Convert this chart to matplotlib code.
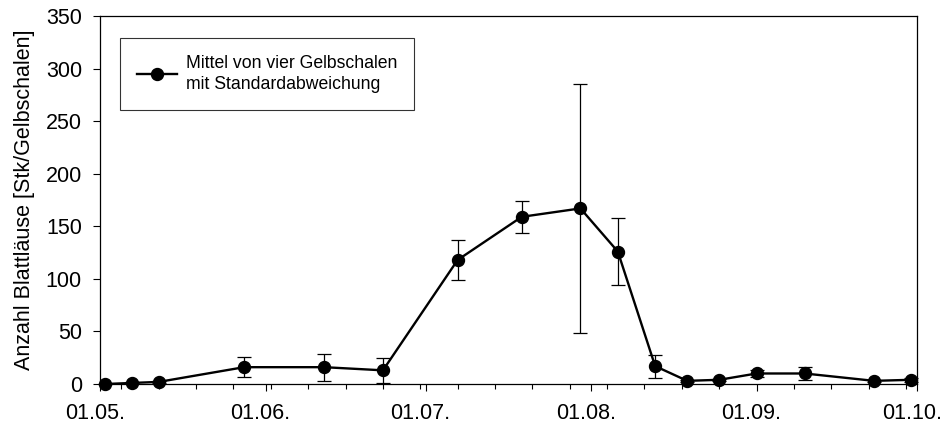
import matplotlib
matplotlib.use("Agg")
import matplotlib.pyplot as plt
import matplotlib.dates as mdates
import matplotlib.transforms as mtransforms
import numpy as np
import datetime as dt

plt.rcParams['font.family'] = ['Liberation Sans', 'DejaVu Sans']

# sampling dates (day.month) and mean counts with standard deviation
dates = ['02.05.', '07.05.', '12.05.', '28.05.', '12.06.', '23.06.', '07.07.',
         '19.07.', '30.07.', '06.08.', '13.08.', '19.08.', '25.08.', '01.09.',
         '10.09.', '23.09.', '30.09.']
means = [0, 1, 2, 16, 16, 13, 118, 159, 167, 126, 17, 3, 4, 10, 10, 3, 4]
stdev = [0, 0.5, 1, 9.5, 13, 12, 19, 15, 118.5, 32, 11, 1, 1, 3, 6, 1, 2]

year = 2003
x = [dt.datetime.strptime(d + str(year), '%d.%m.%Y') for d in dates]

fig = plt.figure(figsize=(9.41, 4.28), dpi=100)
ax = fig.add_axes([0.1063, 0.1028, 0.8679, 0.8598])

ax.errorbar(x, means, yerr=stdev, fmt='none', ecolor='black', elinewidth=0.9,
            capsize=4.7, capthick=0.9, zorder=2, clip_on=False)
ax.plot(x, means, color='black', linewidth=1.7, marker='o', markersize=8.6,
        label='Mittel von vier Gelbschalen\nmit Standardabweichung',
        zorder=3, clip_on=False)

ax.set_xlim(dt.datetime(year, 5, 1), dt.datetime(year, 10, 1))
ax.set_ylim(0, 350)
ax.set_yticks(np.arange(0, 351, 50))

ax.xaxis.set_major_locator(mdates.MonthLocator())
ax.xaxis.set_major_formatter(mdates.DateFormatter('%d.%m.'))
ax.xaxis.set_minor_locator(mdates.WeekdayLocator(byweekday=mdates.MO))

ax.tick_params(axis='both', which='major', direction='out', length=5,
               width=0.8, labelsize=15.5, colors='black')
ax.tick_params(axis='y', pad=8)
ax.tick_params(axis='x', pad=9)
ax.tick_params(axis='x', which='minor', direction='out', length=3.6, width=0.8)
ax.set_ylabel('Anzahl Blattläuse [Stk/Gelbschalen]', fontsize=15.5, labelpad=8)
for s in ax.spines.values():
    s.set_linewidth(0.9)

# nudge date labels a bit to the left, as in the original
shift = mtransforms.ScaledTranslation(-5 / 100, 0, fig.dpi_scale_trans)
for lbl in ax.get_xticklabels():
    lbl.set_transform(lbl.get_transform() + shift)

leg = ax.legend(loc='upper left', bbox_to_anchor=(0.0245, 0.939), fontsize=12.7,
                frameon=True, fancybox=False, edgecolor='black',
                handlelength=2.3, borderpad=0.95, handletextpad=0.5,
                borderaxespad=0, labelspacing=0.5)
leg.get_frame().set_linewidth(0.8)
for t in leg.get_texts():
    t.set_linespacing(1.3)

fig.savefig('out.png', dpi=100)
